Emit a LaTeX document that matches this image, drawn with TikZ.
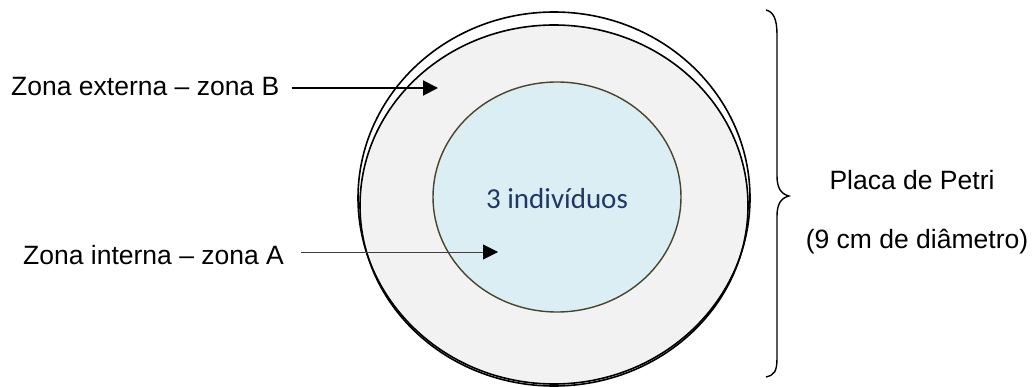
\documentclass[tikz,border=0pt]{standalone}
\usepackage{fontspec}
\setmainfont{Liberation Sans}
\newfontfamily\calibri{Carlito}
\usetikzlibrary{arrows.meta,shapes.geometric}
\definecolor{outerfill}{HTML}{F2F2F2}
\definecolor{innerfill}{HTML}{DAEEF3}
\definecolor{innerline}{HTML}{4A452A}
\definecolor{labelblue}{HTML}{1F3864}
\definecolor{thinline}{HTML}{404040}
\tikzset{
  lbl/.style={font=\fontsize{26.5}{30}\selectfont, inner sep=0pt},
  arrthick/.style={line width=2pt, -{Triangle[length=15pt,width=15pt]}},
  arrthin/.style={line width=1pt, draw=thinline, -{Triangle[length=15pt,width=15pt,color=black,fill=black]}},
  rim/.style={draw=black, line width=1.6pt},
}
\begin{document}
\begin{tikzpicture}[x=1pt,y=-1pt]
\useasboundingbox (0,0) rectangle (1035,387);
% dish
\fill[outerfill] (554,205.5) ellipse [x radius=194, y radius=180.5];
\draw[rim] (554,205.5) ellipse [x radius=194, y radius=180.5];
\draw[rim] (554,198) ellipse [x radius=196, y radius=186];
\draw[fill=innerfill, draw=innerline, line width=1.4pt] (557,197) ellipse [x radius=124, y radius=115];
\node[font=\calibri\fontsize{29}{34}\selectfont, text=labelblue, inner sep=0pt] (ind) at (557,199) {3 indivíduos};
% labels
\node[lbl, anchor=west] (zB) at (11,87) {Zona externa – zona B};
\node[lbl, anchor=west] (zA) at (23,255) {Zona interna – zona A};
\coordinate (tipB) at (438,88);
\coordinate (tipA) at (498,252);
\draw[arrthick] ([xshift=12pt]zB.east |- tipB) -- (tipB);
\draw[arrthin] ([xshift=17pt]zA.east |- tipA) -- (tipA);
% brace
\draw[line width=1.4pt] (766,10) .. controls (774,12) and (777,20) .. (777,35)
  -- (777,176) .. controls (777,188) and (781,194) .. (789,196)
  .. controls (781,198) and (777,204) .. (777,216)
  -- (777,358) .. controls (777,372) and (774,375) .. (766,377);
\node[lbl] (placa) at (912,180) {Placa de Petri};
\node[lbl] (diam) at (917,242) {(9 cm de diâmetro)};
\end{tikzpicture}
\end{document}
